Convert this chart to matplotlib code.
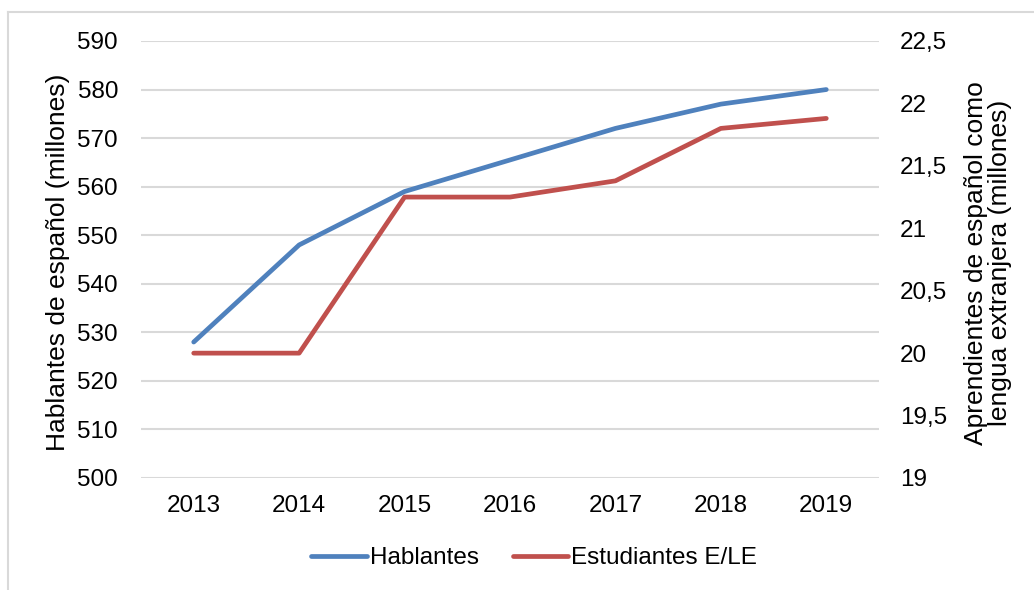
import matplotlib.pyplot as plt
from matplotlib.lines import Line2D

plt.rcParams['font.family'] = ['Liberation Sans', 'DejaVu Sans']

years = ['2013', '2014', '2015', '2016', '2017', '2018', '2019']
hablantes = [528, 548, 559, 565.5, 572, 577, 580]
estudiantes = [20.0, 20.0, 21.25, 21.25, 21.38, 21.8, 21.88]

left_ticks = [500, 510, 520, 530, 540, 550, 560, 570, 580, 590]
right_ticks = [19, 19.5, 20, 20.5, 21, 21.5, 22, 22.5]
right_labels = ['19', '19,5', '20', '20,5', '21', '21,5', '22', '22,5']

blue = '#4F81BD'
red = '#C0504D'
grid_col = '#D9D9D9'
fs = 17.5
label_fs = 19

fig = plt.figure(figsize=(10.34, 5.9), dpi=100)
ax = fig.add_axes([141 / 1034, 1 - 478 / 590, (879 - 141) / 1034, (478 - 41) / 590])
ax2 = ax.twinx()

x = list(range(len(years)))
l1, = ax.plot(x, hablantes, color=blue, lw=3.4, solid_capstyle='round', label='Hablantes')
l2, = ax2.plot(x, estudiantes, color=red, lw=3.4, solid_capstyle='round', label='Estudiantes E/LE')

ax.set_xlim(-0.5, 6.5)
ax.set_ylim(500, 590)
ax2.set_ylim(19, 22.5)
ax.set_xticks(x)
ax.set_xticklabels(years, fontsize=fs)
ax.set_yticks(left_ticks)
ax.set_yticklabels([str(t) for t in left_ticks], fontsize=fs)
ax2.set_yticks(right_ticks)
ax2.set_yticklabels(right_labels, fontsize=fs)

for a in (ax, ax2):
    for s in a.spines.values():
        s.set_visible(False)
    a.tick_params(length=0)
ax.tick_params(axis='y', pad=16.5)
ax.tick_params(axis='x', pad=12)
ax2.tick_params(axis='y', pad=15)

ax.grid(axis='y', color=grid_col, lw=1.5)
ax.set_axisbelow(True)

fig.text(58 / 1034, 1 - 262 / 590, 'Hablantes de español (millones)', fontsize=label_fs,
         rotation=90, ha='center', va='center')
fig.text(988 / 1034, 1 - 263 / 590, 'Aprendientes de español como\nlengua extranjera (millones)',
         fontsize=label_fs, rotation=90, ha='center', va='center', multialignment='center',
         linespacing=1.05)

fig.legend([l1, l2], ['Hablantes', 'Estudiantes E/LE'], loc='center',
           bbox_to_anchor=(534 / 1034, 1 - 558 / 590), ncol=2, frameon=False,
           fontsize=fs, handlelength=2.3, handletextpad=0.1, columnspacing=1.4)

# outer chart frame (extends past right and bottom edges)
fig.add_artist(Line2D([8 / 1034, 1.0], [1 - 12 / 590, 1 - 12 / 590], color=grid_col, lw=1.5))
fig.add_artist(Line2D([8 / 1034, 8 / 1034], [0.0, 1 - 12 / 590], color=grid_col, lw=1.5))

fig.savefig('out.png', dpi=100)
